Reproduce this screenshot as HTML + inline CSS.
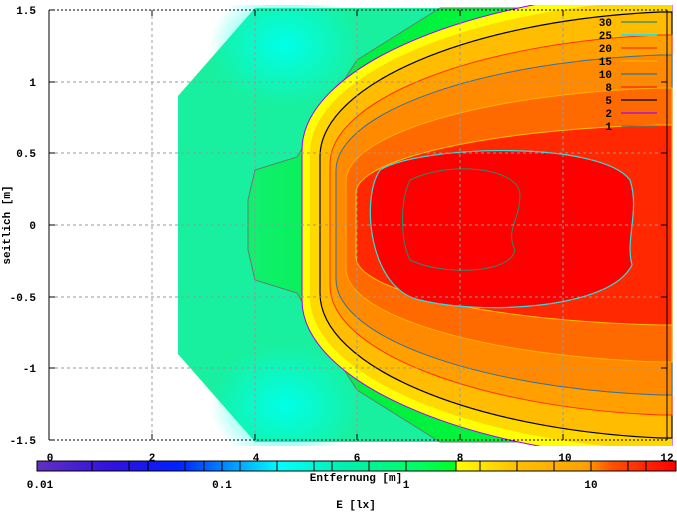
<!DOCTYPE html>
<html><head><meta charset="utf-8"><style>
html,body{margin:0;padding:0;background:#fff;}
text{font-family:"Liberation Mono",monospace;font-weight:bold;font-size:11px;fill:#000;}
</style></head><body>
<svg width="677" height="511" viewBox="0 0 677 511" xmlns="http://www.w3.org/2000/svg">
<defs>
<clipPath id="pc"><rect x="49" y="5" width="626" height="441"/></clipPath>
<radialGradient id="cy" cx="0.5" cy="0.5" r="0.5"><stop offset="0" stop-color="#00ffe8"/><stop offset="1" stop-color="#00ffe8" stop-opacity="0"/></radialGradient>
<linearGradient id="gr" x1="0" x2="1" y1="0" y2="0"><stop offset="0" stop-color="#10f070"/><stop offset="0.3" stop-color="#00f040"/><stop offset="1" stop-color="#00ff30"/></linearGradient>
<linearGradient id="cb" x1="0" x2="1" y1="0" y2="0">
<stop offset="0" stop-color="#6030c0"/><stop offset="0.12" stop-color="#3010e0"/><stop offset="0.22" stop-color="#0020ff"/>
<stop offset="0.31" stop-color="#00a0ff"/><stop offset="0.38" stop-color="#00ffff"/><stop offset="0.48" stop-color="#00f0b0"/>
<stop offset="0.6" stop-color="#00ff60"/><stop offset="0.655" stop-color="#00ff20"/><stop offset="0.656" stop-color="#ffff00"/>
<stop offset="0.75" stop-color="#ffc000"/><stop offset="0.86" stop-color="#ffa000"/><stop offset="0.9" stop-color="#ff5000"/><stop offset="1" stop-color="#ff0000"/></linearGradient>
</defs>
<g clip-path="url(#pc)">
<polygon points="178,96 255,8 672,8 672,442 255,442 178,354" fill="#18f0a0"/>
<ellipse cx="285" cy="45" rx="75" ry="60" fill="url(#cy)"/>
<ellipse cx="285" cy="405" rx="75" ry="60" fill="url(#cy)"/>
<path d="M440,8 L357,60 L327,107 L297,157 L255,170 L248,200 L248,250 L255,280 L297,293 L327,343 L357,390 L440,442 L672,442 L672,8 Z" fill="url(#gr)" stroke="#60806a" stroke-width="1"/>
<path d="M672,-10 L660,-10 C460,-0.6 302,70 302,150 L302,300 C302,380 460,450.6 660,460 L672,460 Z" fill="#ffff00" stroke="#a000ff" stroke-width="1"/>
<path d="M672,0 L660,0 C464,9 310,76.5 310,153 L310,297 C310,373.5 464,441 660,450 L672,450 Z" fill="#ffd800"/>
<path d="M672,12 L660,12 C470,20.5 320,84.4 320,156.8 L320,293.2 C320,365.6 470,429.5 660,438 L672,438 Z" fill="#ffbc00" stroke="#000" stroke-width="1.2"/>
<path d="M672,35 L660,35 C475,42.6 330,99.6 330,164.2 L330,285.8 C330,350.4 475,407.4 660,415 L672,415 Z" fill="#ffa000" stroke="#ff3000" stroke-width="1"/>
<path d="M672,55 L660,55 C479,61.8 336,112.8 336,170.6 L336,279.4 C336,337.2 479,388.2 660,395 L672,395 Z" fill="#ff8a00" stroke="#3070a0" stroke-width="1"/>
<path d="M672,88 L660,88 C484,93.5 346,134.6 346,181.2 L346,268.8 C346,315.4 484,356.5 660,362 L672,362 Z" fill="#ff6a00" stroke="#ffb000" stroke-width="1"/>
<path d="M672,125 L660,125 C490,129 356,159 356,193 L356,257 C356,291 490,321 660,325 L672,325 Z" fill="#ff2800" stroke="#ffc000" stroke-width="1"/>
<path d="M380,170 C420,145 600,140 630,180 C640,210 625,240 632,265 C610,310 480,315 420,300 C370,290 360,200 380,170 Z" fill="#ff0000" stroke="#30e0e0" stroke-width="1.2"/>
<path d="M410,180 C450,160 520,168 520,195 C520,220 505,230 515,250 C510,275 440,275 410,260 C400,240 400,200 410,180 Z" fill="none" stroke="#2a8a6a" stroke-width="1"/>
</g>
<g stroke="#999" stroke-dasharray="3,3" stroke-width="1" fill="none">
<line x1="152" y1="10" x2="152" y2="440"/><line x1="255" y1="10" x2="255" y2="440"/><line x1="357" y1="10" x2="357" y2="440"/>
<line x1="460" y1="10" x2="460" y2="440"/><line x1="563" y1="10" x2="563" y2="440"/>
<line x1="49" y1="82" x2="667" y2="82"/><line x1="49" y1="153" x2="667" y2="153"/><line x1="49" y1="225" x2="667" y2="225"/>
<line x1="49" y1="297" x2="667" y2="297"/><line x1="49" y1="368" x2="667" y2="368"/>
</g>
<g stroke="#000" stroke-width="1" fill="none">
<line x1="49" y1="10" x2="667" y2="10" stroke-dasharray="2,2"/>
<line x1="49" y1="440" x2="667" y2="440" stroke-dasharray="2,2"/>
<line x1="49" y1="10" x2="49" y2="440"/><line x1="667" y1="10" x2="667" y2="440"/>
<path d="M49,10h6M49,82h6M49,153h6M49,225h6M49,297h6M49,368h6M49,440h6M667,82h-6M667,153h-6M667,225h-6M667,297h-6M667,368h-6M152,440v-6M255,440v-6M357,440v-6M460,440v-6M563,440v-6M152,10v6M255,10v6M357,10v6M460,10v6M563,10v6"/>
</g>
<g text-anchor="end">
<text x="36" y="14">1.5</text><text x="36" y="86">1</text><text x="36" y="157">0.5</text><text x="36" y="229">0</text>
<text x="36" y="301">-0.5</text><text x="36" y="372">-1</text><text x="36" y="444">-1.5</text>
</g>
<g text-anchor="middle">
<text x="50" y="461">0</text><text x="152" y="461">2</text><text x="256" y="461">4</text><text x="357" y="461">6</text>
<text x="460" y="461">8</text><text x="565" y="461">10</text><text x="667" y="461">12</text>
</g>
<text transform="translate(10,225) rotate(-90)" text-anchor="middle">seitlich [m]</text>
<g text-anchor="end">
<text x="612" y="26">30</text><text x="612" y="39">25</text><text x="612" y="52">20</text><text x="612" y="65">15</text>
<text x="612" y="78">10</text><text x="612" y="91">8</text><text x="612" y="104">5</text><text x="612" y="117">2</text><text x="612" y="130">1</text>
</g>
<g stroke-width="1.2">
<line x1="621" y1="22" x2="657" y2="22" stroke="#2a8a6a"/><line x1="621" y1="35" x2="657" y2="35" stroke="#30e0e0" stroke-width="2"/>
<line x1="621" y1="48" x2="657" y2="48" stroke="#ff3000"/><line x1="621" y1="61" x2="657" y2="61" stroke="#ffb000"/>
<line x1="621" y1="74" x2="657" y2="74" stroke="#3070a0"/><line x1="621" y1="87" x2="657" y2="87" stroke="#ff2000"/>
<line x1="621" y1="100" x2="657" y2="100" stroke="#000"/><line x1="621" y1="113" x2="657" y2="113" stroke="#a000ff"/>
<line x1="621" y1="126" x2="657" y2="126" stroke="#50806a"/>
</g>
<rect x="37" y="461" width="639" height="10" fill="url(#cb)" stroke="#000" stroke-width="1"/>
<g stroke="#000" stroke-width="1">
<path d="M92,461v10M129,461v10M148,461v10M185,461v10M204,461v10M222,461v10M240,461v10M277,461v10M314,461v10M332,461v10M369,461v10M406,461v10M456,461v10M480,461v10M517,461v10M554,461v10M591,461v10M628,461v10M646,461v10"/>
</g>
<text x="356" y="481" text-anchor="middle">Entfernung [m]</text>
<g text-anchor="middle">
<text x="40" y="488">0.01</text><text x="222" y="488">0.1</text><text x="406" y="488">1</text><text x="591" y="488">10</text>
</g>
<text x="356" y="508" text-anchor="middle">E [lx]</text>
</svg>
</body></html>
